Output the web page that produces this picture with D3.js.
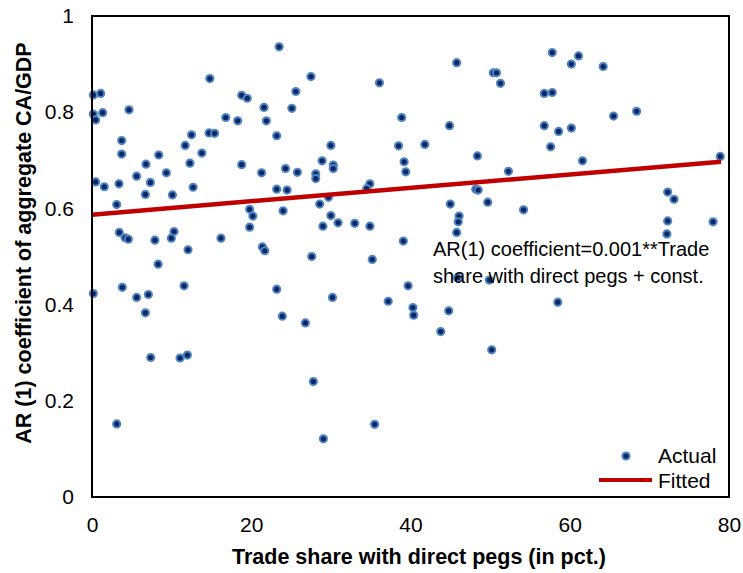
<!DOCTYPE html>
<html>
<head>
<meta charset="utf-8">
<script src="https://cdn.jsdelivr.net/npm/d3@7"></script>
<style>
  html, body { margin: 0; padding: 0; background: #fff; }
  svg { display: block; font-family: "Liberation Sans", Arial, sans-serif; }
</style>
</head>
<body>
<svg id="chart" width="743" height="573"></svg>
<script>
// Trade share with direct pegs (pct.) for each country
const tradeShare = [
  0.17, 1.09, 0.17, 0.46, 1.34, 4.65, 14.8, 18.8, 19.5, 16.8,
  18.3, 3.73, 3.73, 12.5, 11.7, 14.7, 15.4, 13.8, 8.38, 6.78,
  12.3, 18.8, 0.46, 1.55, 3.39, 5.61, 7.33, 9.34, 12.7, 6.7,
  10.1, 3.1, 19.8, 20.2, 19.8, 3.43, 4.15, 4.56, 7.9, 10.3,
  9.96, 16.2, 12.06, 8.3,
  23.5, 27.5, 36.1, 25.6, 21.6, 25.1, 21.9, 38.9, 23.2, 30.0,
  38.5, 39.2, 39.4, 28.9, 30.3, 30.3, 24.3, 25.8, 21.3, 28.1,
  28.1, 23.2, 24.5, 34.9, 34.5, 29.7, 28.6, 24.0, 30.0, 30.9,
  33.0, 29.0, 34.9, 21.4, 21.7, 39.1, 27.6, 35.2,
  57.8, 45.8, 50.4, 50.8, 51.3, 60.2, 61.1, 64.2, 56.8, 57.8,
  44.9, 56.8, 58.6, 60.2, 57.6, 41.8, 48.4, 52.3, 48.2, 48.5,
  45.0, 49.7, 54.2, 46.1, 46.0, 45.8,
  65.5, 68.4, 61.6, 78.9, 72.3, 73.1, 72.3, 78.0, 72.2,
  0.17, 3.81, 5.61, 7.08, 6.7, 11.56, 7.37, 11.06, 11.98, 3.1,
  23.2, 30.2, 23.9, 26.8, 37.2, 39.7, 40.3, 40.4, 27.8, 35.5, 29.06,
  45.9, 49.9, 44.8, 43.8, 50.2, 58.5
];

// AR(1) coefficient of the aggregate current account / GDP
const arCoef = [
  0.836, 0.839, 0.796, 0.784, 0.799, 0.805, 0.870, 0.835, 0.829, 0.789,
  0.782, 0.741, 0.713, 0.753, 0.731, 0.757, 0.756, 0.715, 0.711, 0.692,
  0.694, 0.691, 0.655, 0.645, 0.651, 0.667, 0.654, 0.674, 0.644, 0.629,
  0.628, 0.608, 0.598, 0.584, 0.561, 0.550, 0.539, 0.536, 0.534, 0.552,
  0.538, 0.538, 0.514, 0.484,
  0.936, 0.874, 0.861, 0.843, 0.810, 0.808, 0.782, 0.789, 0.751, 0.731,
  0.730, 0.697, 0.676, 0.699, 0.690, 0.683, 0.683, 0.675, 0.674, 0.672,
  0.662, 0.640, 0.638, 0.651, 0.641, 0.623, 0.609, 0.595, 0.585, 0.570,
  0.569, 0.563, 0.563, 0.520, 0.512, 0.532, 0.500, 0.494,
  0.924, 0.903, 0.882, 0.882, 0.860, 0.900, 0.917, 0.895, 0.839, 0.841,
  0.772, 0.772, 0.760, 0.767, 0.728, 0.733, 0.709, 0.677, 0.640, 0.638,
  0.609, 0.613, 0.597, 0.584, 0.572, 0.550,
  0.792, 0.802, 0.699, 0.708, 0.634, 0.619, 0.574, 0.572, 0.547,
  0.423, 0.436, 0.415, 0.421, 0.383, 0.439, 0.290, 0.289, 0.295, 0.152,
  0.432, 0.415, 0.376, 0.362, 0.407, 0.439, 0.394, 0.378, 0.240, 0.151, 0.121,
  0.456, 0.451, 0.387, 0.344, 0.306, 0.405
];

// Fitted regression line: AR(1) = slope * share + const
const fitX = [0, 79];
const fitY = [0.587, 0.697];

const xTicks = [0, 20, 40, 60, 80];
const yTicks = [0, 0.2, 0.4, 0.6, 0.8, 1];

const svg = d3.select("#chart");
const m = { left: 92, right: 729, top: 16, bottom: 497 };

const x = d3.scaleLinear().domain([0, 80]).range([m.left, m.right]);
const y = d3.scaleLinear().domain([0, 1]).range([m.bottom, m.top]);

// Tick labels (no tick marks)
const xAxis = d3.axisBottom(x).tickValues(xTicks).tickSize(0).tickPadding(20).tickFormat(d3.format("d"));
const yAxis = d3.axisLeft(y).tickValues(yTicks).tickSize(0).tickPadding(18).tickFormat(d => d === 0 || d === 1 ? String(d) : d.toFixed(1));

const gx = svg.append("g").attr("transform", `translate(0,${m.bottom})`).call(xAxis);
const gy = svg.append("g").attr("transform", `translate(${m.left},0)`).call(yAxis);
[gx, gy].forEach(g => {
  g.select(".domain").remove();
  g.selectAll("text").attr("fill", "#000").style("font-size", "21px").style("font-family", '"Liberation Sans", Arial, sans-serif');
});

// Points
const pts = tradeShare.map((d, i) => ({ x: d, y: arCoef[i] }));
svg.append("g").selectAll("circle").data(pts).join("circle")
  .attr("cx", d => x(d.x)).attr("cy", d => y(d.y)).attr("r", 3.6)
  .attr("fill", "#0a2764").attr("stroke", "#4f84c4").attr("stroke-width", 2);

// Fitted line
const line = d3.line().x(d => x(d[0])).y(d => y(d[1]));
svg.append("path").datum(fitX.map((d, i) => [d, fitY[i]]))
  .attr("d", line).attr("fill", "none").attr("stroke", "#c00000").attr("stroke-width", 4.5);

// Plot frame
svg.append("rect").attr("x", m.left).attr("y", m.top).attr("width", m.right - m.left).attr("height", m.bottom - m.top)
  .attr("fill", "none").attr("stroke", "#000").attr("stroke-width", 2);

// Regression annotation
const note = svg.append("text").attr("font-size", 20).attr("fill", "#000");
note.append("tspan").attr("x", 433).attr("y", 256).text("AR(1) coefficient=0.001**Trade");
note.append("tspan").attr("x", 433).attr("y", 283).text("share with direct pegs + const.");

// Legend
const lg = svg.append("g");
lg.append("circle").attr("cx", 626).attr("cy", 456).attr("r", 3.6)
  .attr("fill", "#0a2764").attr("stroke", "#4f84c4").attr("stroke-width", 2);
lg.append("text").attr("x", 658).attr("y", 463).attr("font-size", 21).text("Actual");
lg.append("line").attr("x1", 599).attr("x2", 652).attr("y1", 480).attr("y2", 480)
  .attr("stroke", "#c00000").attr("stroke-width", 4);
lg.append("text").attr("x", 658).attr("y", 488).attr("font-size", 21).text("Fitted");

// Axis titles
svg.append("text").attr("x", 419).attr("y", 564).attr("text-anchor", "middle")
  .attr("font-size", 21.5).attr("font-weight", "bold").text("Trade share with direct pegs (in pct.)");
svg.append("text").attr("transform", "translate(31,243) rotate(-90)").attr("text-anchor", "middle")
  .attr("font-size", 21.5).attr("font-weight", "bold").text("AR (1) coefficient of aggregate CA/GDP");
</script>
</body>
</html>
